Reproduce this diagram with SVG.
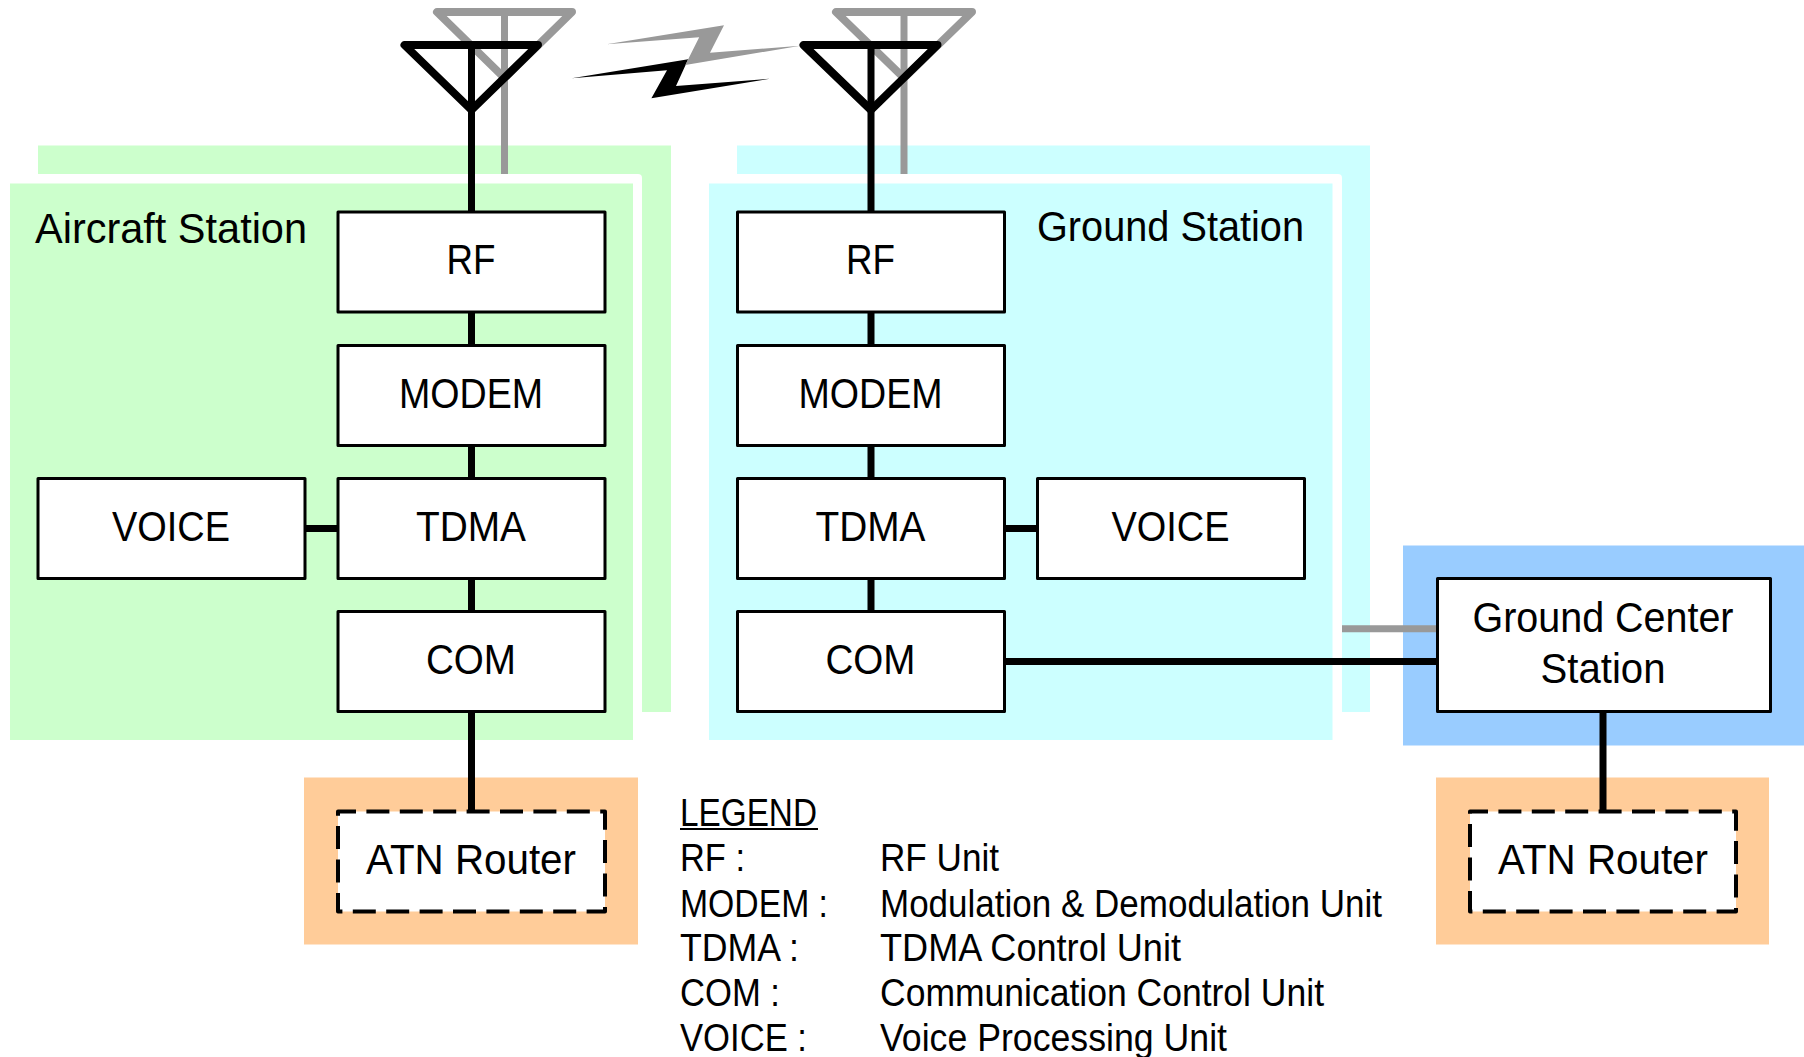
<svg xmlns="http://www.w3.org/2000/svg" width="1804" height="1057" viewBox="0 0 1804 1057">
<style>
text{font-family:"Liberation Sans",Arial,sans-serif;fill:#000;font-size:43px}
.l{font-size:38px}
.c{text-anchor:middle}
.box{fill:#fff;stroke:#000;stroke-width:3;stroke-linejoin:round}
.dash{fill:#fff;stroke:#000;stroke-width:4;stroke-dasharray:23 10.4;stroke-dashoffset:5;stroke-linejoin:round}
.k{fill:none;stroke:#000;stroke-width:7}
.g{fill:none;stroke:#999;stroke-width:7}
.ant{fill:none;stroke-width:8;stroke-linejoin:round;stroke-linecap:round}
</style>
<rect width="1804" height="1057" fill="#fff"/>
<g id="aircraft-station">
<rect x="38" y="145.500" width="633" height="566.500" fill="#cfc"/>
<rect x="5" y="174" width="637" height="580" rx="4" fill="#fff"/>
<rect x="10" y="183.500" width="623" height="556.500" fill="#cfc"/>
<text x="35" y="243" textLength="272" lengthAdjust="spacingAndGlyphs">Aircraft Station</text>
</g>
<g id="ground-station">
<rect x="737" y="145.500" width="633" height="566.500" fill="#cff"/>
<rect x="700" y="174" width="642" height="580" rx="4" fill="#fff"/>
<rect x="709" y="183.500" width="623.500" height="556.500" fill="#cff"/>
<text x="1037" y="241" textLength="267" lengthAdjust="spacingAndGlyphs">Ground Station</text>
</g>
<g id="ground-center-bg"><rect x="1403" y="545.500" width="401" height="200" fill="#9cf"/></g>
<g id="atn-bg-left"><rect x="304" y="777.500" width="334" height="167" fill="#fc9"/></g>
<g id="atn-bg-right"><rect x="1436" y="777.500" width="333" height="167" fill="#fc9"/></g>
<g id="antenna-shadows">
<path class="ant" d="M437 12H572L504.500 78Z" style="stroke:#999"/>
<path class="ant" d="M836 12H972L904 78Z" style="stroke:#999"/>
</g>
<g id="connectors">
<path class="g" d="M504.500 12V174M904 12V174M1342 628.800H1437"/>
<path class="k" d="M471.500 212V811M871 212V611M305 528.500H338M1004 528.500H1037M1004 661.500H1437M1603 711V811"/>
<path class="k" d="M471.500 45V212M871 45V212"/>
</g>
<g id="antennas">
<path class="ant" d="M404.500 45H538L471.500 110Z" style="stroke:#000"/>
<path class="ant" d="M803.500 45H937.500L871 110Z" style="stroke:#000"/>
</g>
<g id="lightning">
<polygon points="571.800,78.300 688.200,59.300 676,86 769.800,78.700 651.400,98.300 667,70.300" fill="#000"/>
<polygon points="606.500,44.300 724,25.300 710,52.700 800.400,45.700 685.300,65 699.200,37.300" fill="#999"/>
</g>
<g id="a-rf"><rect class="box" x="338" y="212" width="267" height="100"/><text class="c" x="471" y="274" textLength="49" lengthAdjust="spacingAndGlyphs">RF</text></g>
<g id="a-modem"><rect class="box" x="338" y="345.500" width="267" height="100"/><text class="c" x="471" y="407.500" textLength="144" lengthAdjust="spacingAndGlyphs">MODEM</text></g>
<g id="a-tdma"><rect class="box" x="338" y="478.500" width="267" height="100"/><text class="c" x="471" y="540.500" textLength="110" lengthAdjust="spacingAndGlyphs">TDMA</text></g>
<g id="a-com"><rect class="box" x="338" y="611.500" width="267" height="100"/><text class="c" x="471" y="673.500" textLength="90" lengthAdjust="spacingAndGlyphs">COM</text></g>
<g id="a-voice"><rect class="box" x="38" y="478.500" width="267" height="100"/><text class="c" x="171" y="540.500" textLength="118" lengthAdjust="spacingAndGlyphs">VOICE</text></g>
<g id="g-rf"><rect class="box" x="737.500" y="212" width="267" height="100"/><text class="c" x="870.500" y="274" textLength="49" lengthAdjust="spacingAndGlyphs">RF</text></g>
<g id="g-modem"><rect class="box" x="737.500" y="345.500" width="267" height="100"/><text class="c" x="870.500" y="407.500" textLength="144" lengthAdjust="spacingAndGlyphs">MODEM</text></g>
<g id="g-tdma"><rect class="box" x="737.500" y="478.500" width="267" height="100"/><text class="c" x="870.500" y="540.500" textLength="110" lengthAdjust="spacingAndGlyphs">TDMA</text></g>
<g id="g-com"><rect class="box" x="737.500" y="611.500" width="267" height="100"/><text class="c" x="870.500" y="673.500" textLength="90" lengthAdjust="spacingAndGlyphs">COM</text></g>
<g id="g-voice"><rect class="box" x="1037.500" y="478.500" width="267" height="100"/><text class="c" x="1170.500" y="540.500" textLength="118" lengthAdjust="spacingAndGlyphs">VOICE</text></g>
<g id="ground-center"><rect class="box" x="1437.500" y="578.500" width="333" height="133"/><text class="c" x="1603" y="632" textLength="261" lengthAdjust="spacingAndGlyphs">Ground Center</text><text class="c" x="1603" y="683" textLength="125" lengthAdjust="spacingAndGlyphs">Station</text></g>
<g id="atn-left"><rect class="dash" x="338" y="811.500" width="267" height="100"/><text class="c" x="471" y="874" textLength="210" lengthAdjust="spacingAndGlyphs">ATN Router</text></g>
<g id="atn-right"><rect class="dash" x="1470" y="811.500" width="266" height="100"/><text class="c" x="1603" y="874" textLength="210" lengthAdjust="spacingAndGlyphs">ATN Router</text></g>
<g id="legend">
<text class="l" x="680" y="826" textLength="137" lengthAdjust="spacingAndGlyphs">LEGEND</text>
<path d="M680 829H818" stroke="#000" stroke-width="2" fill="none"/>
<text class="l" x="680" y="871" textLength="65" lengthAdjust="spacingAndGlyphs">RF :</text>
<text class="l" x="680" y="916.500" textLength="148" lengthAdjust="spacingAndGlyphs">MODEM :</text>
<text class="l" x="680" y="961" textLength="119" lengthAdjust="spacingAndGlyphs">TDMA :</text>
<text class="l" x="680" y="1006" textLength="100" lengthAdjust="spacingAndGlyphs">COM :</text>
<text class="l" x="680" y="1051" textLength="127" lengthAdjust="spacingAndGlyphs">VOICE :</text>
<text class="l" x="880" y="871" textLength="119" lengthAdjust="spacingAndGlyphs">RF Unit</text>
<text class="l" x="880" y="916.500" textLength="502" lengthAdjust="spacingAndGlyphs">Modulation &amp; Demodulation Unit</text>
<text class="l" x="880" y="961" textLength="301" lengthAdjust="spacingAndGlyphs">TDMA Control Unit</text>
<text class="l" x="880" y="1006" textLength="444" lengthAdjust="spacingAndGlyphs">Communication Control Unit</text>
<text class="l" x="880" y="1051" textLength="347" lengthAdjust="spacingAndGlyphs">Voice Processing Unit</text>
</g>
</svg>
